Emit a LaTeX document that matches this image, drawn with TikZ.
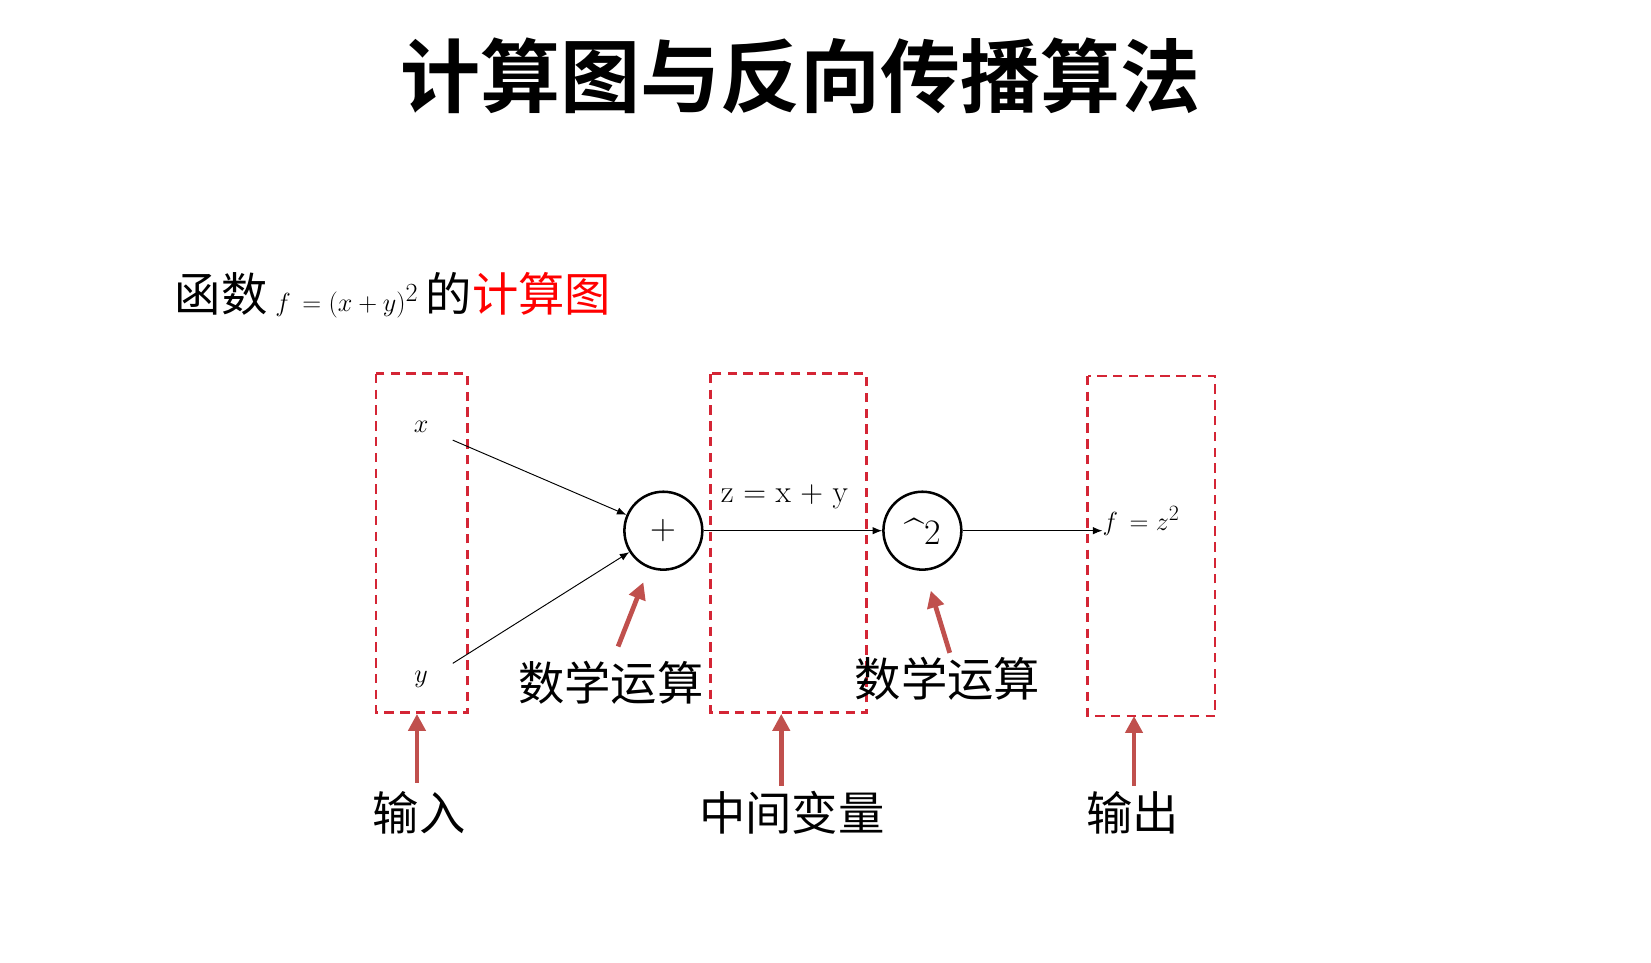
\documentclass[tikz,border=0pt]{standalone}
\usepackage{fontspec}
\newfontfamily\cjk{Noto Sans CJK SC}
\newfontfamily\cjkb{Noto Sans CJK SC Bold}
\usetikzlibrary{arrows.meta}
\definecolor{boxred}{HTML}{D42535}
\definecolor{arrred}{HTML}{C0504D}
\begin{document}
\begin{tikzpicture}[x=1pt,y=-1pt,
  dbox/.style={draw=boxred,dashed,dash pattern=on 9pt off 6pt,line width=2.6pt},
  opnode/.style={circle,draw,line width=2.4pt,minimum size=74pt,inner sep=0pt,font=\fontsize{34}{34}\selectfont},
  conn/.style={-{Latex[length=9pt,width=7pt]},line width=0.9pt},
  redarr/.style={-{Triangle[length=16pt,width=16pt]},draw=arrred,line width=4.5pt},
  lab/.style={font=\cjk\fontsize{44}{44}\selectfont,inner sep=0pt},
  var/.style={font=\fontsize{36}{36}\selectfont,inner sep=0pt}]
\useasboundingbox (0,0) rectangle (1568,914);
\node[font=\cjkb\fontsize{76}{76}\selectfont,inner sep=0pt] (title) at (760,72) {计算图与反向传播算法};
\node[anchor=west,font=\cjk\fontsize{44}{44}\selectfont,inner sep=0pt] (sub) at (166,280) {函数\,$f\,=(x+y)^2$\,的\textcolor{red}{计算图}};
\draw[dbox] (357,355) rectangle (444,677);
\draw[dbox] (675,355) rectangle (823,677);
\draw[dbox] (1033,357) rectangle (1154,680);
\node[var] (x) at (400,405) {$x$};
\node[var] (y) at (400,645) {$y$};
\node[opnode] (plus) at (630,504) {+};
\node[opnode] (sq) at (876,504) {\^{}2};
\node[font=\fontsize{30}{30}\selectfont,inner sep=0pt] (z) at (745,472) {z = x + y};
\node[anchor=west,font=\fontsize{32}{32}\selectfont,inner sep=0pt] (f) at (1047,495) {$f\,=z^2$};
\coordinate (xs) at (430,418);
\coordinate (ys) at (430,630);
\draw[conn] (xs) -- (plus);
\draw[conn] (ys) -- (plus);
\draw[conn] (plus) -- (sq);
\draw[conn] (sq) -- (f.west|-sq);
\node[lab] (op1) at (580,648) {数学运算};
\node[lab] (op2) at (900,645) {数学运算};
\node[lab] (in) at (398,772) {输入};
\node[lab] (mid) at (752,772) {中间变量};
\node[lab] (out) at (1076,772) {输出};
\coordinate (a1s) at (587,614); \coordinate (a1e) at (611,553);
\coordinate (a2s) at (902,620); \coordinate (a2e) at (884,561);
\draw[redarr] (a1s) -- (a1e);
\draw[redarr] (a2s) -- (a2e);
\draw[redarr] (in.north-|396,0) ++(0,-8) -- (396,678);
\draw[redarr] (742,746) -- (742,678);
\draw[redarr] (1077,746) -- (1077,680);
\end{tikzpicture}
\end{document}
